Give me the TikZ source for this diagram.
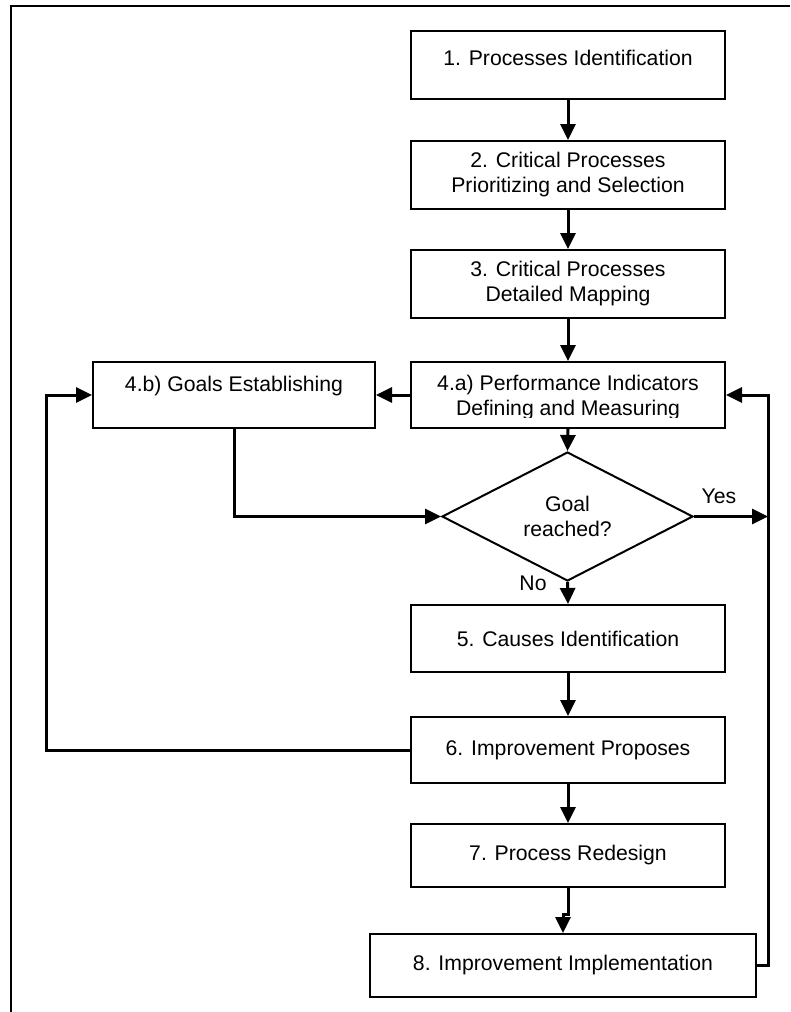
\documentclass[tikz,border=0pt]{standalone}
\usepackage{fontspec}
\setmainfont{Liberation Sans}
\usetikzlibrary{shapes.geometric,arrows.meta}
\begin{document}
\begin{tikzpicture}[x=1pt,y=-1pt,
 fnt/.style={font=\fontsize{21.2}{25}\selectfont},
 box/.style={draw,line width=2pt,rectangle,inner sep=0pt,minimum width=314pt,align=center,fnt},
 lbl/.style={fnt,inner sep=0pt,align=center},
 conn/.style={line width=3pt},
 arr/.style={conn,-{Triangle[length=16pt,width=15pt]}},
]
\useasboundingbox (0,0) rectangle (790,1012);
\draw[line width=1.3pt] (11,1012) -- (11,6) -- (790,6);

% boxes
\node[box,minimum height=68pt] (b1) at (568,65) {};
\node[lbl] (t1) at (568,58) {1. Processes Identification};
\node[box,minimum height=68pt] (b2) at (568,175) {2. Critical Processes\\Prioritizing and Selection};
\node[box,minimum height=68pt] (b3) at (568,284) {3. Critical Processes\\Detailed Mapping};
\node[box,minimum height=66pt] (b4a) at (568,395) {};
\begin{scope}
\clip (412,363) rectangle (724,417);
\node[lbl] (t4a) at (568,398) {4.a) Performance Indicators\\Defining and Measuring};
\end{scope}
\node[box,minimum width=282pt,minimum height=66pt] (b4b) at (234,395) {};
\node[lbl] (t4b) at (234,386) {4.b) Goals Establishing};
\node[draw,line width=2pt,diamond,inner sep=0pt,minimum width=251pt,minimum height=103pt,align=center,fnt] (dia) at (567.5,516.5) {Goal\\reached?};
\node[box,minimum height=67pt] (b5) at (568,638.5) {5. Causes Identification};
\node[box,minimum height=66pt] (b6) at (568,750) {6. Improvement Proposes};
\node[box,minimum height=63pt] (b7) at (568,855.5) {7. Process Redesign};
\node[box,minimum width=386pt,minimum height=63pt] (b8) at (563,965.5) {8. Improvement Implementation};

% labels
\node[lbl] (yes) at (719,496) {Yes};
\node[lbl] (no) at (533,583) {No};

% helper coordinates
\coordinate (rj) at (768,516.5);
\coordinate (rt) at (768,395);
\coordinate (lc) at (46,395);

% connectors
\draw[arr] (b1.south) -- (b2.north);
\draw[arr] (b2.south) -- (b3.north);
\draw[arr] (b3.south) -- (b4a.north);
\draw[arr] (b4a.south) -- (dia.north);
\draw[arr] (b4a.west) -- (b4b.east);
\draw[arr] (b4b.south) |- (dia.west);
\draw[arr] (dia.east) -- (rj);
\draw[arr] (b8.east) -| (rt) -- (b4a.east);
\draw[arr] (dia.south) -- (b5.north);
\draw[arr] (b5.south) -- (b6.north);
\draw[arr] (b6.south) -- (b7.north);
\draw[arr] (b7.south) -- ++(0,26) -| (b8.north);
\draw[arr] (b6.west) -| (lc) -- (b4b.west);
\end{tikzpicture}
\end{document}
